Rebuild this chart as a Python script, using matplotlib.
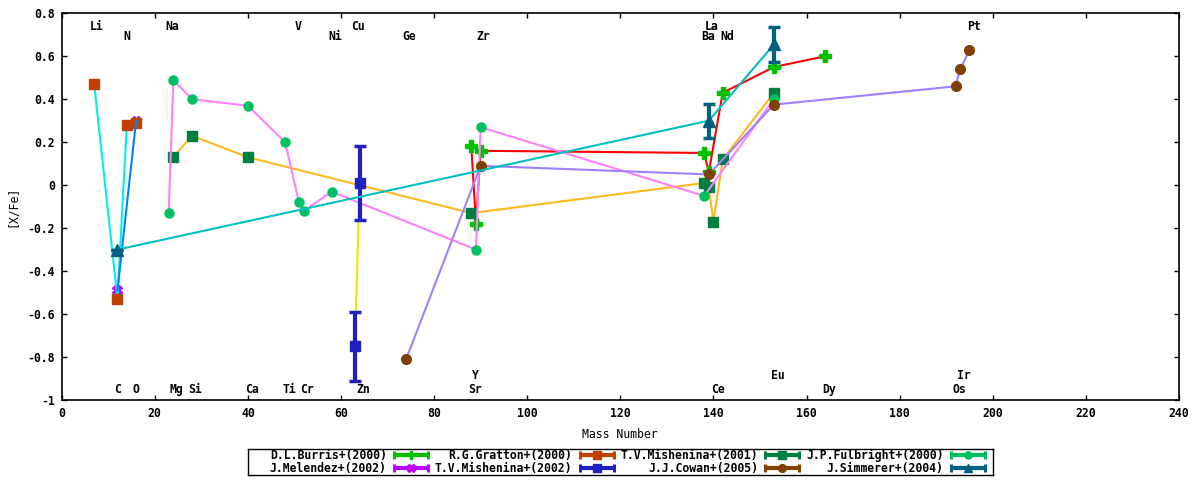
#%% Librerias
import numpy as np
import matplotlib
matplotlib.use('Agg')
import matplotlib.pyplot as plt

plt.rcParams['font.family'] = 'DejaVu Sans Mono'
plt.rcParams['font.weight'] = 'bold'
plt.rcParams['font.size'] = 8.3

#%% Datos ([X/Fe] vs numero masico)
burris_x = [88, 89, 90, 138, 139, 142, 153, 164]
burris_y = [0.18, -0.18, 0.16, 0.15, 0.06, 0.43, 0.55, 0.60]

gratton_x = [7, 12, 14, 16]
gratton_y = [0.47, -0.53, 0.28, 0.29]

mish01_x = [24, 28, 40, 88, 138, 139, 140, 142, 153]
mish01_y = [0.13, 0.23, 0.13, -0.13, 0.01, -0.01, -0.17, 0.12, 0.43]

fulb_x = [23, 24, 28, 40, 48, 51, 52, 58, 89, 90, 138, 153]
fulb_y = [-0.13, 0.49, 0.40, 0.37, 0.20, -0.08, -0.12, -0.03, -0.30, 0.27, -0.05, 0.40]

melendez_x = [12, 16]
melendez_y = [-0.49, 0.30]

mish02_x = [64, 63]
mish02_y = [0.01, -0.75]
mish02_err = [0.17, 0.16]

cowan_x = [74, 90, 139, 153, 192, 193, 195]
cowan_y = [-0.81, 0.09, 0.05, 0.375, 0.46, 0.54, 0.63]

simm_x = [12, 139, 153]
simm_y = [-0.30, 0.30, 0.655]
simm_err = [0.0, 0.08, 0.08]

# etiquetas de elementos
elem_names = ['Li', 'N', 'Na', 'V', 'Cu', 'Ni', 'Ge', 'Zr', 'La', 'Ba', 'Nd', 'Pt',
              'C', 'O', 'Mg', 'Si', 'Ca', 'Ti', 'Cr', 'Zn', 'Sr', 'Y', 'Eu', 'Ir',
              'Ce', 'Dy', 'Os']
elem_x = [7.6, 14.0, 23.8, 50.9, 63.7, 58.8, 74.7, 90.5, 139.7, 138.9, 142.9, 195.9,
          12.05, 16.0, 24.7, 28.7, 40.8, 48.9, 52.8, 64.8, 88.9, 88.9, 153.8, 193.8,
          140.9, 164.9, 192.8]
elem_y = [0.74, 0.69, 0.74, 0.74, 0.74, 0.69, 0.69, 0.69, 0.74, 0.69, 0.69, 0.74,
          -0.953, -0.953, -0.953, -0.953, -0.953, -0.953, -0.953, -0.953, -0.953, -0.884,
          -0.884, -0.884, -0.953, -0.953, -0.953]

# (label, x, y, err, marker, color marcador, ms, color linea, zorder marcador)
series = [
    ('D.L.Burris+(2000)', burris_x, burris_y, None, 'P', '#00c000', 8, '#ff0000', 3),
    ('R.G.Gratton+(2000)', gratton_x, gratton_y, None, 's', '#c04000', 7, '#00eeee', 5),
    ('T.V.Mishenina+(2001)', mish01_x, mish01_y, None, 's', '#008040', 7, '#ffb820', 7),
    ('J.P.Fulbright+(2000)', fulb_x, fulb_y, None, 'o', '#00c060', 6.5, '#ff80ff', 9),
    ('J.Melendez+(2002)', melendez_x, melendez_y, None, 'X', '#c000ff', 7, '#0080ff', 2.5),
    ('T.V.Mishenina+(2002)', mish02_x, mish02_y, mish02_err, 's', '#2020c0', 7, '#e8e800', 13),
    ('J.J.Cowan+(2005)', cowan_x, cowan_y, None, 'o', '#804000', 7, '#a080ff', 15),
    ('J.Simmerer+(2004)', simm_x, simm_y, simm_err, '^', '#006080', 8, '#00c0c0', 17),
]

#%% Plot
fig = plt.figure(figsize=(12, 4.8), dpi=100)
ax = fig.add_axes([61.6/1200, 1-400/480, (1179-61.6)/1200, (400-13.3)/480])

for i, (lab, x, y, err, mk, mc, ms, lc, zm) in enumerate(series):
    ax.plot(x, y, '-', color=lc, lw=1.5, zorder=2+2*i)
    if err is None:
        ax.plot(x, y, mk, color=mc, ms=ms, mec=mc, zorder=zm)
    else:
        ax.errorbar(x, y, yerr=err, fmt=mk, color=mc, ms=ms, mec=mc,
                    elinewidth=3, capsize=4.5, capthick=2.5, zorder=zm)

for name, ex, ey in zip(elem_names, elem_x, elem_y):
    ax.text(ex, ey, name, ha='center', va='center', zorder=30)

ax.set_xlim(0, 240)
ax.set_ylim(-1, 0.8)
ax.set_xticks(np.arange(0, 241, 20))
yt = np.round(np.arange(-1, 0.81, 0.2), 1)
ax.set_yticks(yt)
ax.set_yticklabels(['%g' % (v if abs(v) > 1e-9 else 0) for v in yt])
ax.tick_params(direction='in', top=True, right=True, length=3.5, width=1, pad=5)
for s in ax.spines.values():
    s.set_linewidth(1.2)

ax.set_xlabel('Mass Number', va='center')
ax.xaxis.set_label_coords(0.5, -(434-400)/386.7)
ax.set_ylabel('[X/Fe]', va='center', ha='center')
ax.yaxis.set_label_coords((12.7-61.6)/1117.4, 0.5)

#%% Leyenda (estilo gnuplot)
lx0, lx1, ly0, ly1 = 248.3, 993, 449.3, 475
axl = fig.add_axes([lx0/1200, 1-ly1/480, (lx1-lx0)/1200, (ly1-ly0)/480])
axl.set_xlim(lx0, lx1)
axl.set_ylim(ly1, ly0)
axl.set_xticks([])
axl.set_yticks([])
for s in axl.spines.values():
    s.set_linewidth(1.0)

for i, (lab, x, y, err, mk, mc, ms, lc, zm) in enumerate(series):
    col, row = i % 4, i // 4
    ty = 455 if row == 0 else 468.3
    tx = 386.7 + col*185.6
    axl.text(tx, ty, lab, ha='right', va='center')
    sx0, sx1 = tx + 6.6, tx + 42.3
    axl.plot([sx0, sx1], [ty, ty], color=mc, lw=3, solid_capstyle='butt')
    for sx in (sx0 + 1, sx1 - 1):
        axl.plot([sx, sx], [ty - 4, ty + 4], color=mc, lw=2.2, solid_capstyle='butt')
    axl.plot([(sx0+sx1)/2], [ty], mk, color=mc, mec=mc, ms=ms*0.8)

plt.savefig('out.png', dpi=100)
